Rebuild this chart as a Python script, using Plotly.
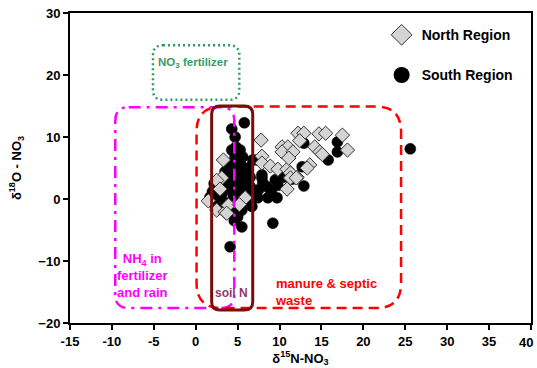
import plotly.graph_objects as go

# ---- data ----
north_x = [3.3, 3.1, 2.5, 1.5, 2.5, 3.5, 3.9, 5.9, 7.8, 7.9, 7.9, 8.9, 9.8, 10.9, 11.3, 12.1,
           10.9, 11.3, 12.0, 10.3, 11.0, 10.3, 11.6, 11.1, 12.2, 12.9, 14.7, 14.2, 14.8, 13.6,
           13.3, 17.5, 18.1, 15.1, 2.9, 3.7, 5.2, 15.5, 12.4]
north_y = [6.3, 3.4, 3.0, -0.3, -1.8, -2.1, -1.0, 0.2, 9.5, 6.9, 5.8, 5.3, 4.8, 4.8, 4.2, 3.5,
           1.6, 3.4, 3.4, 8.4, 8.4, 7.6, 7.6, 6.6, 10.6, 10.6, 10.5, 8.4, 7.6, 5.5,
           5.0, 10.3, 7.9, 7.2, 1.6, -2.3, -0.9, 10.6, 9.4]

south_x = [5.8, 4.3, 4.7, 4.8, 4.3, 5.3, 4.7, 5.6, 4.3, 5.3, 6.8, 5.3, 6.2, 4.5, 3.5, 5.6,
           2.7, 3.5, 4.3, 2.9, 1.7, 5.3, 6.1, 5.0, 5.5, 2.3, 3.7, 4.9, 6.2, 4.1,
           3.0, 4.0, 5.0, 6.5, 7.3, 2.2, 3.2, 4.5, 5.8, 6.8, 7.4, 8.6, 9.7, 7.9, 9.5,
           10.4, 7.9, 8.5, 9.0, 6.5, 7.5, 12.9, 12.7, 12.9, 16.9, 16.9, 15.8, 25.6, 9.2,
           4.0, 3.2, 5.5, 6.7, 4.6, 6.0, 3.8, 5.0, 6.0, 2.0, 11.5, 8.0, 9.8]
south_y = [12.3, 11.3, 10.0, 8.4, 7.9, 7.9, 6.8, 6.8, 5.8, 5.8, 6.3, 5.0, 5.0, 4.4, 4.4, 3.9,
           1.9, 1.9, 1.5, 0.3, 0.3, 1.1, 1.5, -2.9, -4.5, -1.0, -0.6, -1.3, -0.5, -7.7,
           3.0, 3.0, 3.0, 3.5, 6.3, 2.5, 1.0, 0.5, 0.3, 0.8, 0.2, 0.2, 0.2, 3.4, 3.1,
           3.5, 3.9, 2.0, 1.2, 2.0, 1.5, 2.1, 5.2, 9.0, 9.2, 7.6, 6.3, 8.1, -3.9,
           -2.0, -1.5, -1.8, -1.2, -3.5, 4.3, 5.0, 2.2, 2.7, 1.2, 3.2, 2.6, 2.2]

x_tickvals = [-15, -10, -5, 0, 5, 10, 15, 20, 25, 30, 35, 40]
x_ticktext = ["-15", "-10", "-5", "0", "5", "10", "15", "20", "25", "30", "35", ""]
x_last_label = "40"   # drawn right-aligned at the axis end so it stays inside the page
y_tickvals = [-20, -10, 0, 10, 20, 30]

# source regions: [x0, x1, y0, y1, rx, ry]
box_no3 = [-5.1, 5.2, 16.0, 24.8, 1.2, 1.6]
box_nh4 = [-9.6, 4.6, -17.6, 14.8, 1.6, 2.2]
box_manure = [0.1, 24.5, -17.6, 14.9, 3.0, 4.0]
box_soil = [1.9, 6.8, -17.9, 15.0, 1.0, 1.3]

FONT = "Liberation Sans, Arial, sans-serif"


def rrect(b):
    x0, x1, y0, y1, rx, ry = b
    return (f"M {x0+rx},{y1} L {x1-rx},{y1} Q {x1},{y1} {x1},{y1-ry} "
            f"L {x1},{y0+ry} Q {x1},{y0} {x1-rx},{y0} L {x0+rx},{y0} "
            f"Q {x0},{y0} {x0},{y0+ry} L {x0},{y1-ry} Q {x0},{y1} {x0+rx},{y1} Z")


fig = go.Figure()

fig.add_trace(go.Scatter(x=south_x, y=south_y, mode="markers", showlegend=False,
                         marker=dict(symbol="circle", size=11, color="black",
                                     line=dict(color="black", width=0.5))))
fig.add_trace(go.Scatter(x=north_x, y=north_y, mode="markers", showlegend=False,
                         marker=dict(symbol="diamond", size=11, color="#d4d4d4",
                                     line=dict(color="#333333", width=1))))
# legend entries
fig.add_trace(go.Scatter(x=[None], y=[None], mode="markers", name="North Region",
                         legendgroup="n",
                         marker=dict(symbol="diamond", size=16, color="#d4d4d4",
                                     line=dict(color="#333333", width=1))))
fig.add_trace(go.Scatter(x=[None], y=[None], mode="markers", name="South Region",
                         legendgroup="s",
                         marker=dict(symbol="circle", size=16, color="black")))

shapes = [
    dict(type="path", path=rrect(box_no3), line=dict(color="#2e9a62", width=2.5, dash="2px,3px"),
         layer="above"),
    dict(type="path", path=rrect(box_nh4), line=dict(color="#ff00ff", width=2.5, dash="12px,6px,3px,6px"),
         layer="above"),
    dict(type="path", path=rrect(box_manure), line=dict(color="#ff0000", width=2.5, dash="10px,6px"),
         layer="above"),
    dict(type="path", path=rrect(box_soil), line=dict(color="#7a0c0c", width=3),
         layer="above"),
]

annotations = [
    dict(x=-0.3, y=21.9, text="NO<sub>3</sub> fertilizer", showarrow=False,
         font=dict(family=FONT, size=11.5, color="#3a9a6a", weight="bold")),
    dict(x=-6.4, y=-12.4, text="NH<sub>4</sub> in<br>fertilizer<br>and rain", showarrow=False,
         align="center", font=dict(family=FONT, size=13, color="#ff00ff", weight="bold")),
    dict(x=4.3, y=-15.2, text="soil N", showarrow=False,
         font=dict(family=FONT, size=12, color="#8e3a66", weight="bold")),
    dict(x=9.2, y=-15.0, text="manure &amp; septic<br>waste", showarrow=False, xanchor="left",
         align="left", font=dict(family=FONT, size=13, color="#ff0000", weight="bold")),
    dict(x=x_tickvals[-1], xref="x", y=0, yref="paper", text=x_last_label, showarrow=False,
         xanchor="right", yanchor="top", xshift=4, yshift=-10,
         font=dict(family=FONT, size=13, color="black", weight="bold")),
]

fig.update_layout(
    width=537, height=368,
    margin=dict(l=70, r=6, t=13, b=45, autoexpand=False),
    paper_bgcolor="white", plot_bgcolor="white",
    font=dict(family=FONT, color="black"),
    shapes=shapes, annotations=annotations,
    legend=dict(x=0.676, y=0.98, xanchor="left", yanchor="top",
                bgcolor="rgba(0,0,0,0)", tracegroupgap=19,
                font=dict(family=FONT, size=14, color="black", weight="bold")),
    xaxis=dict(range=[-15, 40], tickvals=x_tickvals, ticktext=x_ticktext,
               showgrid=False, zeroline=False,
               showline=True, linecolor="black", linewidth=2, mirror=True,
               ticks="outside", ticklen=5, tickwidth=1.5, tickcolor="black",
               ticklabeloverflow="allow", automargin=False,
               tickfont=dict(family=FONT, size=13, weight="bold"),
               title=dict(text="<b>δ<sup>15</sup>N-NO<sub>3</sub></b>", standoff=6,
                          font=dict(family=FONT, size=13))),
    yaxis=dict(range=[-20, 30], tickvals=y_tickvals, showgrid=False, zeroline=False,
               showline=True, linecolor="black", linewidth=2, mirror=True,
               ticks="outside", ticklen=5, tickwidth=1.5, tickcolor="black",
               ticklabeloverflow="allow", automargin=False,
               tickfont=dict(family=FONT, size=13, weight="bold"),
               title=dict(text="<b>δ<sup>18</sup>O - NO<sub>3</sub></b>", standoff=14,
                          font=dict(family=FONT, size=13))),
)

fig.write_html("out.html", config={"displayModeBar": False},
               post_script="document.body.style.margin='0';")
